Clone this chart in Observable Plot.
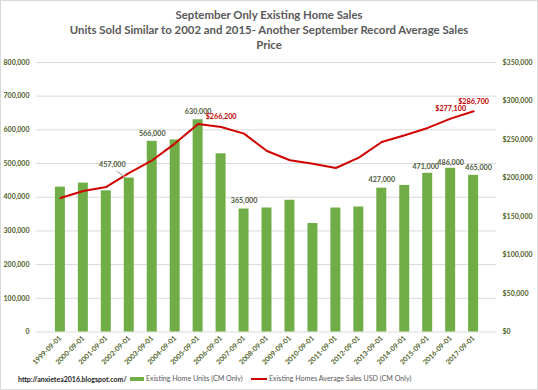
<!DOCTYPE html>
<html><head><meta charset="utf-8">
<script src="https://cdn.jsdelivr.net/npm/d3@7"></script>
<script src="https://cdn.jsdelivr.net/npm/@observablehq/plot@0.6"></script>
<style>
body{margin:0;background:#fff;font-family:Lato,sans-serif}
#wrap{position:relative;width:536px;height:388px;border:1px solid #d9d9d9;overflow:hidden;background:#fff}
#title{position:absolute;top:6px;left:0;width:536px;text-align:center;font-weight:bold;font-size:11.4px;line-height:15px;color:#595959}
#chart{position:absolute;top:54px;left:-1px}
#legend{position:absolute;top:371px;left:17px;font-size:7.1px;color:#595959;white-space:nowrap;height:14px;line-height:14px}
#legend span{position:absolute;top:0}
.sw{display:inline-block;vertical-align:middle;margin-top:-1px;margin-right:2px}
</style></head>
<body>
<div id="wrap">
<div id="title">September Only Existing Home Sales<br>Units Sold Similar to 2002 and 2015- Another September Record Average Sales<br>Price</div>
<div id="chart"></div>
<div id="legend">
<span style="left:0;color:#222;font-weight:bold;font-size:7px">http://anxietea2016.blogspot.com/</span>
<span style="left:112px"><i class="sw" style="width:14px;height:4px;background:#70AD47"></i>Existing Home Units (CM Only)</span>
<span style="left:233px"><i class="sw" style="width:16px;height:2px;background:#D00000"></i>Existing Homes Average Sales USD (CM Only)</span>
</div>
</div>
<script>
const dates = ["1999-09-01","2000-09-01","2001-09-01","2002-09-01","2003-09-01","2004-09-01","2005-09-01","2006-09-01","2007-09-01","2008-09-01","2009-09-01","2010-09-01","2011-09-01","2012-09-01","2013-09-01","2014-09-01","2015-09-01","2016-09-01","2017-09-01"];
const units = [430000,442000,419000,457000,566000,570000,630000,529000,365000,368000,391000,322000,368000,371000,427000,435000,471000,486000,465000];
const prices = [174000,183000,188400,206500,223000,245000,270000,266200,257600,235000,223000,218600,213000,226400,246700,255400,265000,277100,286700];
const unitTicks = [0,100000,200000,300000,400000,500000,600000,700000,800000];
const priceTicks = [0,50000,100000,150000,200000,250000,300000,350000];
const unitLabelDates = ["2003-09-01","2005-09-01","2007-09-01","2013-09-01"];
const unitLabelShiftL = ["2015-09-01"];
const unitLabelLeft = ["2016-09-01"];
const unitLabelRight = ["2017-09-01"];
const leaderLabelDates = ["2002-09-01"];
const priceLabelDates = ["2006-09-01","2016-09-01","2017-09-01"];

const ratio = 800000/350000;
const rows = dates.map((d,i)=>({date:d, units:units[i], price:prices[i], pv:prices[i]*ratio}));
const fmt = d3.format(",");
const green = "#4F6228";
const labFill = "#4d5a40";
const fs = 7.2;
const pick = list => rows.filter(r=>list.includes(r.date));
const leader = {draw(context, l){ context.moveTo(0,0); context.lineTo(0,-l); }};

const chart = Plot.plot({
  width:538, height:320, marginTop:7, marginBottom:43, marginLeft:36, marginRight:41,
  style:{fontFamily:"Lato, sans-serif", background:"transparent", overflow:"visible"},
  x:{type:"band", domain:dates, padding:0.58, label:null},
  y:{domain:[0,800000], label:null},
  marks:[
    Plot.gridY(unitTicks, {stroke:"#d9d9d9", strokeOpacity:1}),
    Plot.axisY(unitTicks, {anchor:"left", tickSize:0, tickPadding:7, tickFormat:fmt, fill:green, fontSize:7, fontWeight:"bold", label:null}),
    Plot.axisY(priceTicks.map(p=>p*ratio), {anchor:"right", tickSize:0, tickPadding:6, tickFormat:d=>"$"+fmt(Math.round(d/ratio)), fill:green, fontSize:7, fontWeight:"bold", label:null}),
    Plot.axisX({tickSize:0, tickRotate:-45, tickPadding:5, fontSize:7, fontWeight:"bold", fill:green, label:null}),
    Plot.barY(rows, {x:"date", y:"units", fill:"#70AD47"}),
    Plot.line(rows, {x:"date", y:"pv", stroke:"#D00000", strokeWidth:2}),
    Plot.vector(pick(leaderLabelDates), {x:"date", y:"units", length:10, rotate:-55, anchor:"start", shape:leader, dx:-4, dy:-1, stroke:"#a6a6a6", strokeWidth:1}),
    Plot.text(pick(unitLabelDates), {x:"date", y:"units", text:r=>fmt(r.units), dy:-8, fill:labFill, fontSize:fs, fontWeight:"bold"}),
    Plot.text(pick(unitLabelShiftL), {x:"date", y:"units", text:r=>fmt(r.units), dx:-2, dy:-7, fill:labFill, fontSize:fs, fontWeight:"bold"}),
    Plot.text(pick(unitLabelLeft), {x:"date", y:"units", text:r=>fmt(r.units), dx:0, dy:-6, fill:labFill, fontSize:fs, fontWeight:"bold"}),
    Plot.text(pick(unitLabelRight), {x:"date", y:"units", text:r=>fmt(r.units), dx:5, dy:-8, fill:labFill, fontSize:fs, fontWeight:"bold"}),
    Plot.text(pick(leaderLabelDates), {x:"date", y:"units", text:r=>fmt(r.units), dx:-17, dy:-13, fill:labFill, fontSize:fs, fontWeight:"bold"}),
    Plot.text(pick(priceLabelDates), {x:"date", y:"pv", text:r=>"$"+fmt(r.price), dy:-10, fill:"#C00000", fontSize:fs, fontWeight:"bold"})
  ]
});
document.getElementById("chart").append(chart);
</script>
</body></html>
